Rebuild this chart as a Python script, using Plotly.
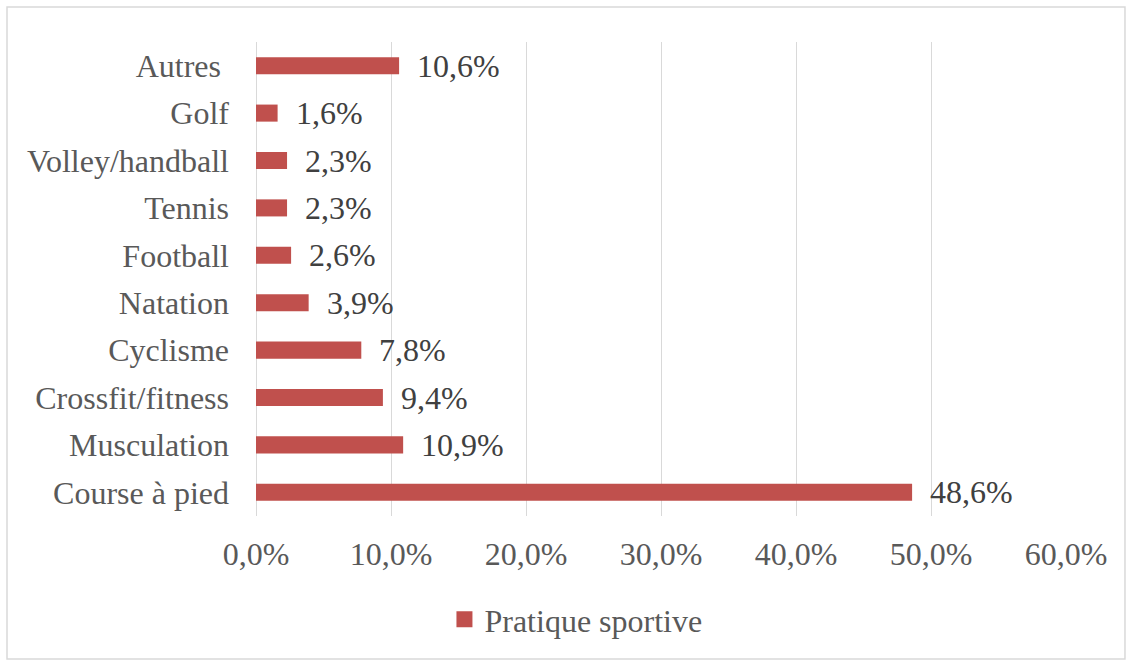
import plotly.graph_objects as go

# categories bottom -> top, as on the chart
sports = ["Course à pied", "Musculation", "Crossfit/fitness", "Cyclisme", "Natation",
          "Football", "Tennis", "Volley/handball", "Golf", "Autres"]
share = [0.486, 0.109, 0.094, 0.078, 0.039, 0.026, 0.023, 0.023, 0.016, 0.106]
x_ticks = [0, 0.1, 0.2, 0.3, 0.4, 0.5, 0.6]

bar_color = "#C0504D"
serif = "Liberation Serif, Times New Roman, serif"

fig = go.Figure()
fig.add_trace(go.Bar(
    x=share, y=sports, orientation="h", name="Pratique sportive",
    marker=dict(color=bar_color, line=dict(width=0)), width=0.36,
    showlegend=False,
))
# legend entry with a bigger square like Excel's
fig.add_trace(go.Scatter(
    x=[None], y=[None], mode="markers", name="Pratique sportive",
    marker=dict(symbol="square", size=17, color=bar_color),
))

# value labels to the right of each bar
for v, s in zip(share, sports):
    fig.add_annotation(x=v, y=s, text=f"{v*100:.1f}%".replace(".", ","),
                       showarrow=False, xanchor="left", xshift=16,
                       font=dict(family=serif, size=32, color="#404040"))

# light chart border, like the Excel chart area
fig.add_shape(type="rect", xref="paper", yref="paper",
              x0=-0.3074, x1=1.0728, y0=-0.3017, y1=1.0738,
              line=dict(color="#d9d9d9", width=1.5), layer="below")

fig.update_layout(
    width=1132, height=666,
    margin=dict(l=256, r=66, t=42, b=150),
    paper_bgcolor="white", plot_bgcolor="white",
    separators=",.",
    font=dict(family=serif, size=32, color="#595959"),
    showlegend=True,
    legend=dict(orientation="h", x=0.395, xanchor="center", y=-0.16, yanchor="top",
                font=dict(family=serif, size=32, color="#595959"), itemwidth=30),
    bargap=0.64,
)
fig.update_xaxes(range=[0, 0.6], tickvals=x_ticks, tickformat=".1%",
                 showgrid=True, gridcolor="#d9d9d9", gridwidth=1.3,
                 zeroline=True, zerolinecolor="#d9d9d9", zerolinewidth=1.3,
                 showline=False, ticks="", ticklabelstandoff=16)
fig.update_yaxes(categoryorder="array", categoryarray=sports,
                 ticktext=[s if s != "Autres" else "Autres\u00a0" for s in sports],
                 tickvals=sports,
                 showgrid=False, showline=False, ticks="", ticklabelstandoff=26)

fig.write_html("out.html", config={"displayModeBar": False},
               post_script="document.body.style.margin='0';")
